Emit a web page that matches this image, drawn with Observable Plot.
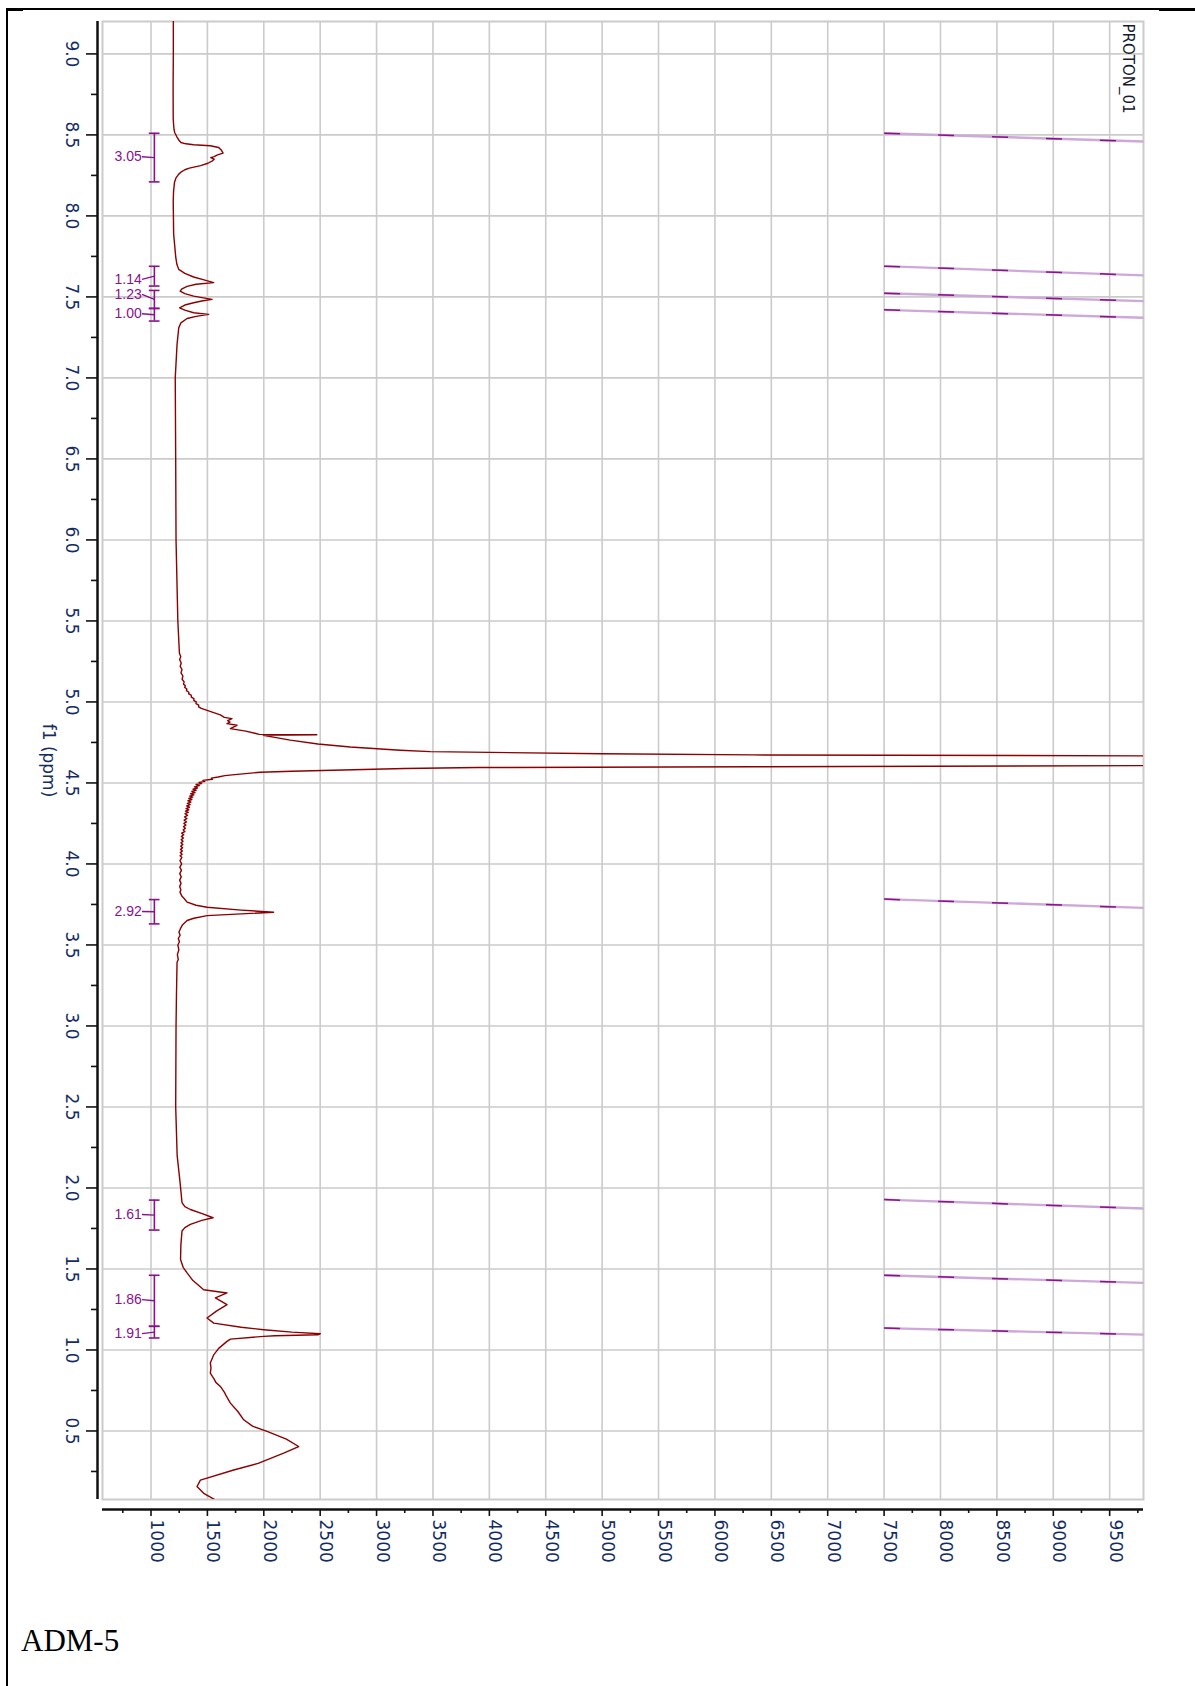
<!DOCTYPE html>
<html><head><meta charset="utf-8">
<script src="https://cdn.jsdelivr.net/npm/d3@7"></script>
<script src="https://cdn.jsdelivr.net/npm/@observablehq/plot@0.6"></script>
<style>
body{margin:0;background:#fff;}
#page{position:relative;width:1195px;height:1686px;overflow:hidden;background:#fff;}
#chart{position:absolute;left:0;top:0;}
.bl{position:absolute;background:#000;}
#caption{position:absolute;left:21px;top:1625px;font-family:"Liberation Serif","Times New Roman",serif;font-size:31px;line-height:1;color:#000;}
</style></head><body>
<div id="page">
  <div id="chart"></div>
  <div class="bl" style="left:7px;top:8px;width:1152px;height:2px"></div>
  <div class="bl" style="left:1159px;top:8px;width:36px;height:3px"></div>
  <div class="bl" style="left:7px;top:8px;width:16px;height:3px"></div>
  <div class="bl" style="left:6px;top:8px;width:2px;height:1678px"></div>
  <div id="caption">ADM-5</div>
</div>
<script>
// ---------- data ----------
// spectrum: chemical shift (ppm) and intensity
const ppm = [9.20,9.00,8.80,8.60,8.567,8.535,8.515,8.49,8.465,8.453,8.445,8.439,8.433,8.422,8.405,8.388,8.377,8.366,8.360,8.350,8.340,8.325,8.31,8.295,8.285,8.27,8.258,8.235,8.206,8.15,8.09,7.886,7.742,7.70,7.67,7.645,7.623,7.605,7.588,7.578,7.565,7.55,7.536,7.52,7.505,7.485,7.475,7.464,7.45,7.433,7.418,7.402,7.392,7.38,7.367,7.34,7.309,7.207,7.0,6.5,6.0,5.5,
  5.30,5.28,5.26,5.24,5.22,5.20,5.18,5.16,5.14,5.124,5.11,5.10,5.09,5.08,5.07,5.06,5.05,5.042,5.03,5.02,5.01,5.0,4.99,4.98,4.97,4.96,
  4.94,4.92,4.905,4.897,4.885,4.876,4.866,4.856,4.845,4.835,4.82,4.805,4.800,4.797,4.794,4.78,4.764,4.74,4.722,4.702,4.693,4.680,4.673,4.667,4.66,4.645,4.63,4.615,4.607,4.600,4.595,4.589,4.58,4.572,4.566,
  4.55,4.545,4.537,4.53,4.523,4.516,4.51,4.503,4.496,4.49,4.483,4.476,4.469,4.462,4.455,4.448,4.44,4.433,4.426,4.419,4.412,4.405,4.398,4.39,4.382,4.374,4.366,4.358,4.35,4.342,4.334,4.326,4.318,4.31,4.30,4.29,4.28,4.27,4.26,4.25,4.24,4.23,4.22,4.21,4.20,
  4.19,4.18,4.17,4.16,4.15,4.14,4.13,4.12,4.11,4.10,4.09,4.08,4.07,4.06,4.05,4.04,4.02,4.00,3.98,3.96,3.94,3.92,3.90,3.88,3.86,3.84,3.826,
  3.80,3.79,3.764,3.745,3.733,3.715,3.702,3.692,3.681,3.665,3.651,3.625,3.599,3.58,3.56,3.54,3.52,3.50,3.47,3.44,3.41,3.393,3.2,3.0,2.5,2.2,2.033,1.96,1.909,1.885,1.867,1.84,1.816,1.80,1.775,1.755,1.734,1.65,1.558,1.51,1.476,1.43,1.372,1.352,1.321,1.28,1.24,1.197,1.166,1.14,1.125,1.110,1.100,1.094,1.088,1.084,1.067,1.053,1.01,0.970,0.94,0.919,0.89,0.857,0.82,0.80,0.775,0.74,0.71,0.672,0.62,0.569,0.53,0.497,0.45,0.404,0.363,0.30,0.259,0.197,0.157,0.115,0.063];
const intensity = [1198,1198,1196,1197,1200,1204,1210,1228,1250,1265,1310,1378,1526,1600,1625,1639,1590,1560,1530,1560,1545,1505,1440,1340,1300,1265,1246,1222,1208,1200,1197,1201,1220,1230,1246,1300,1378,1470,1556,1400,1320,1275,1258,1300,1378,1541,1450,1378,1300,1254,1300,1378,1511,1400,1320,1265,1246,1231,1215,1219,1222,1238,
  1252,1264,1254,1268,1259,1275,1266,1283,1276,1294,1288,1305,1299,1318,1314,1336,1334,1356,1358,1381,1379,1401,1399,1423,1422,1446,
  1530,1615,1650,1718,1680,1700,1674,1763,1730,1704,1840,1930,1960,2470,1995,2110,2235,2480,2767,3210,3477,5000,6338,9800,13000,18000,16000,11000,9800,6338,3900,3250,2700,2250,1969,
  1720,1655,1595,1535,1545,1460,1478,1425,1448,1400,1428,1385,1412,1372,1400,1362,1390,1352,1380,1343,1370,1335,1362,1328,1354,1322,1347,1316,1341,1311,1335,1306,1330,1302,1324,1298,1318,1294,1314,1292,1309,1289,1305,1286,1300,
  1272,1290,1270,1287,1268,1284,1266,1282,1264,1280,1262,1278,1260,1276,1258,1274,1257,1272,1256,1270,1255,1268,1254,1266,1254,1265,1257,
  1275,1290,1320,1400,1497,1800,2087,1800,1497,1380,1320,1280,1260,1248,1258,1242,1252,1238,1247,1234,1242,1231,1226,1222,1219,1232,1258,1268,1275,1300,1349,1460,1550,1450,1349,1300,1275,1265,1262,1285,1320,1370,1467,1674,1571,1674,1580,1497,1556,1800,2000,2250,2501,2480,2100,1999,1704,1674,1600,1556,1538,1526,1532,1526,1560,1575,1615,1650,1672,1704,1770,1822,1900,2029,2200,2309,2176,1950,1733,1438,1408,1467,1600];

// integrals
const integralValues = ["3.05","1.14","1.23","1.00","2.92","1.61","1.86","1.91"];
const integralFrom   = [8.51, 7.689, 7.540, 7.429, 3.780, 1.925, 1.461, 1.146];
const integralTo     = [8.21, 7.567, 7.429, 7.351, 3.630, 1.740, 1.146, 1.074];
const integralLabelPpm = [8.365, 7.608, 7.516, 7.396, 3.706, 1.836, 1.311, 1.101];
const integralCurveStart = [8.51, 7.69, 7.523, 7.42, 3.783, 1.928, 1.461, 1.135];
const integralCurveEnd   = [8.459, 7.633, 7.474, 7.371, 3.729, 1.873, 1.414, 1.095];

// axis ticks
const ppmMajor = [9.0,8.5,8.0,7.5,7.0,6.5,6.0,5.5,5.0,4.5,4.0,3.5,3.0,2.5,2.0,1.5,1.0,0.5];
const ppmMinor = [8.75,8.25,7.75,7.25,6.75,6.25,5.75,5.25,4.75,4.25,3.75,3.25,2.75,2.25,1.75,1.25,0.75,0.25];
const intMajor = [1000,1500,2000,2500,3000,3500,4000,4500,5000,5500,6000,6500,7000,7500,8000,8500,9000,9500];
const intMinor = [750,1250,1750,2250,2750,3250,3750,4250,4750,5250,5750,6250,6750,7250,7750,8250,8750,9250,9750];
const intDomain = [570, 9800];
const ppmDomain = [0.077, 9.2];

// annotation anchors (intensity units)
const bracketAt = 1030, capFrom = 985, capTo = 1080, labelAt = 918, curveFrom = 7500, curveTo = 9800;

// ---------- build ----------
const spectrum = ppm.map((p, i) => ({ppm: p, v: intensity[i]}));
const integrals = integralValues.map((t, i) => ({
  t, from: integralFrom[i], to: integralTo[i], lab: integralLabelPpm[i],
  mid: (integralFrom[i] + integralTo[i]) / 2,
  s: integralCurveStart[i], e: integralCurveEnd[i]
}));

const W = 1195, H = 1600;
const PURPLE = "#8b108b";
const LABEL = "#142c64";
const GRID = "#cbcbcb";

const chart = Plot.plot({
  width: W, height: H,
  marginLeft: 102, marginRight: 52, marginTop: 21, marginBottom: H - 1499,
  x: {domain: intDomain, axis: null},
  y: {domain: ppmDomain, axis: null},
  style: {fontFamily: "DejaVu Sans", background: "white", overflow: "visible"},
  marks: [
    Plot.gridX(intMajor, {stroke: GRID, strokeOpacity: 1, strokeWidth: 1.6}),
    Plot.gridY(ppmMajor, {stroke: GRID, strokeOpacity: 1, strokeWidth: 1.6}),
    Plot.frame({stroke: GRID, strokeWidth: 2}),
    // axis lines
    Plot.ruleX([intDomain[0]], {dx: -5, stroke: "#111", strokeWidth: 2.5}),
    Plot.ruleY([ppmDomain[0]], {dy: 10, stroke: "#111", strokeWidth: 2.5}),
    // ticks
    Plot.axisY(ppmMajor, {anchor: "left", tickSize: 11, dx: -5, fill: "none", stroke: "#111", strokeWidth: 1.6, label: null}),
    Plot.axisY(ppmMinor, {anchor: "left", tickSize: 6, dx: -5, fill: "none", stroke: "#111", strokeWidth: 1.6, label: null}),
    Plot.axisX(intMajor, {anchor: "bottom", tickSize: 7, dy: 10, fill: "none", stroke: "#111", strokeWidth: 1.6, label: null}),
    Plot.axisX(intMinor, {anchor: "bottom", tickSize: 4, dy: 10, fill: "none", stroke: "#111", strokeWidth: 1.6, label: null}),
    // tick labels
    Plot.text(ppmMajor, {y: d => d, frameAnchor: "left", textAnchor: "middle", dx: -31, rotate: 90, text: d => d.toFixed(1), fontSize: 17, fill: LABEL}),
    Plot.text(intMajor, {x: d => d, frameAnchor: "bottom", dy: 20, rotate: 90, textAnchor: "start", text: d => String(d), fontSize: 17, fill: LABEL}),
    Plot.text(["f1 (ppm)"], {frameAnchor: "left", textAnchor: "middle", dx: -54, rotate: 90, fontSize: 17, fill: LABEL}),
    Plot.text(["PROTON_01"], {frameAnchor: "top-right", dx: -10, dy: 2, rotate: 90, textAnchor: "start", fontSize: 15, fill: "#161a2e"}),
    // integral curves
    Plot.link(integrals, {x1: () => curveFrom, y1: "s", x2: () => curveTo, y2: "e", stroke: "#cda8d8", strokeWidth: 2.4}),
    Plot.link(integrals, {x1: () => curveFrom, y1: "s", x2: () => curveTo, y2: "e", stroke: PURPLE, strokeWidth: 1.5, strokeDasharray: "16,38"}),
    // integral brackets
    Plot.ruleX(integrals, {x: () => bracketAt, y1: "from", y2: "to", stroke: PURPLE, strokeWidth: 1.6}),
    Plot.ruleY(integrals, {y: "from", x1: () => capFrom, x2: () => capTo, stroke: PURPLE, strokeWidth: 1.6}),
    Plot.ruleY(integrals, {y: "to", x1: () => capFrom, x2: () => capTo, stroke: PURPLE, strokeWidth: 1.6}),
    Plot.link(integrals, {x1: () => labelAt + 2, y1: "lab", x2: () => bracketAt, y2: "mid", stroke: PURPLE, strokeWidth: 1.4}),
    Plot.text(integrals, {x: () => labelAt, y: "lab", text: "t", textAnchor: "end", fontSize: 14, fill: PURPLE, fontFamily: "Liberation Sans"}),
    // spectrum
    Plot.line(spectrum, {x: "v", y: "ppm", stroke: "#8b0000", strokeWidth: 1.4, clip: true})
  ]
});
document.getElementById("chart").appendChild(chart);
</script>
</body></html>
